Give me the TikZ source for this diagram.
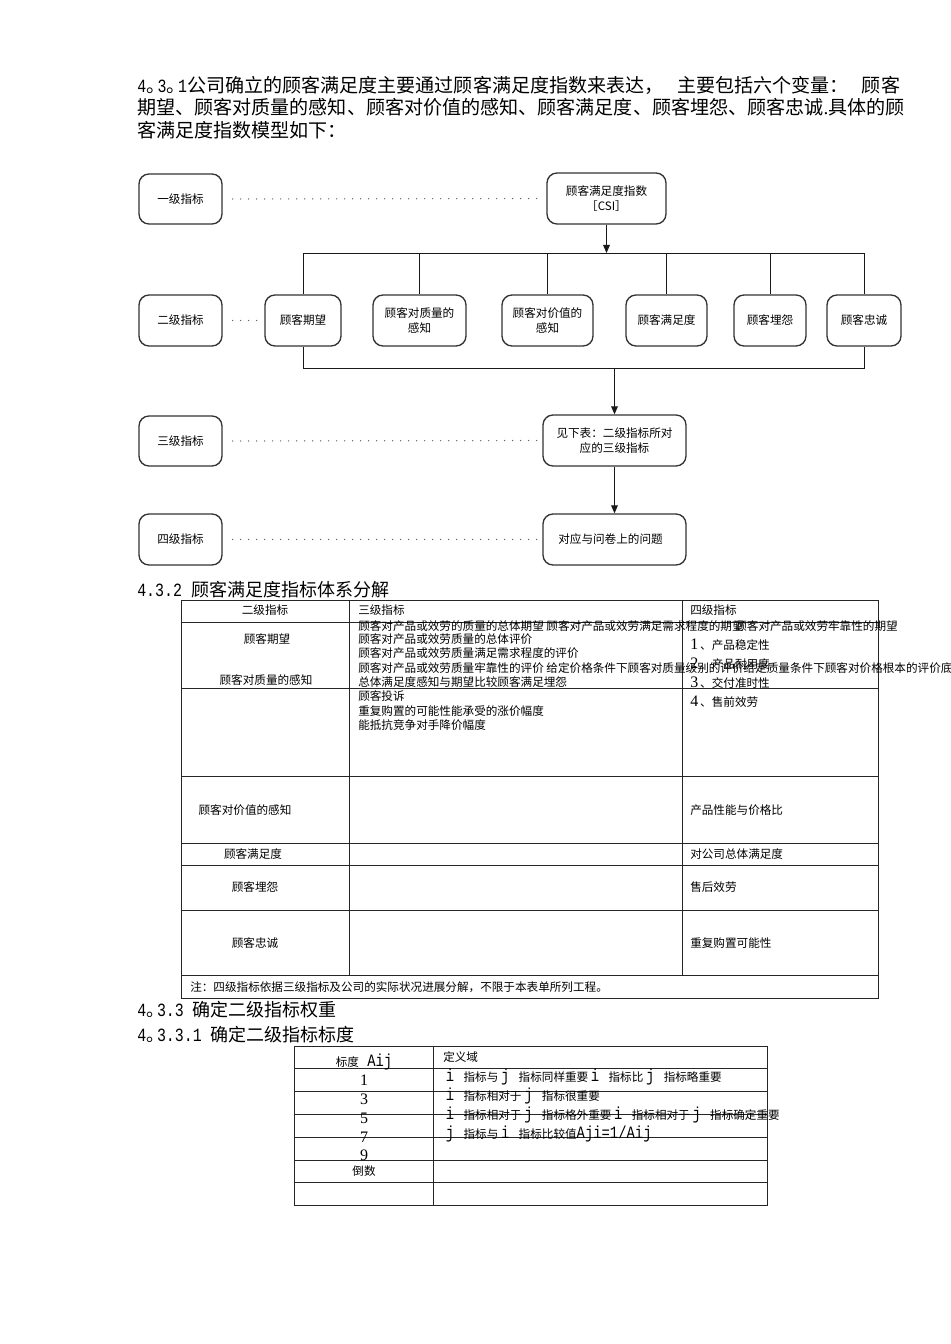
\documentclass[tikz,border=0pt]{standalone}
\usepackage{fontspec}
\setmainfont{Liberation Serif}
\newfontfamily\cjk{Noto Sans CJK SC}
\newfontfamily\mono{Liberation Mono}
\newfontfamily\nmono[FakeStretch=0.8]{Liberation Mono}
\usetikzlibrary{arrows.meta}
\newcommand{\qdot}{\makebox[0.6em][l]{。}}
\newcommand{\latn}[1]{\hspace{2pt}{\nmono\fontsize{13}{13}\selectfont #1}\hspace{7pt}}
\newcommand{\num}[1]{{\rmfamily\fontsize{12}{12}\selectfont #1}}
\newcommand{\hd}[1]{{\nmono\fontsize{14}{14}\selectfont #1}}
\begin{document}
\begin{tikzpicture}[x=0.75pt,y=-0.75pt,
  box/.style={draw=black!80,line width=1pt,rounded corners=7.5pt,align=center,inner sep=1pt,font=\cjk\fontsize{8.7}{11.5}\selectfont},
  conn/.style={draw=black!90,line width=0.7pt},
  arr/.style={conn,-{Triangle[length=6pt,width=5pt]}},
  dots/.style={draw=black!60,line width=1.1pt,line cap=round,dash pattern=on 0pt off 6pt},
  grid/.style={draw=black!85,line width=0.75pt},
  tx/.style={font=\cjk\fontsize{8.7}{10}\selectfont,inner sep=0pt},
  para/.style={font=\cjk\fontsize{14.3}{18}\selectfont,inner sep=0pt,anchor=west},
  head/.style={font=\cjk\fontsize{13.5}{16}\selectfont,inner sep=0pt,anchor=west}]
\fill[white] (0,0) rectangle (950,1344);
\useasboundingbox (0,0) rectangle (950,1344);

% paragraph
\node[para] (p1) at (137,85) {\hd{4}\qdot\hd{3}\qdot\hd{1}公司确立的顾客满足度主要通过顾客满足度指数来表达，\hspace{10pt}主要包括六个变量：\hspace{10pt}顾客};
\node[para] (p2) at (137,107) {期望、顾客对质量的感知、顾客对价值的感知、顾客满足度、顾客埋怨、顾客忠诚{\rmfamily .}具体的顾};
\node[para] (p3) at (137,130) {客满足度指数模型如下：};

% diagram
\node[box,minimum width=62.25pt,minimum height=37.5pt] (l1) at (180.5,199) {一级指标};
\node[box,minimum width=89.25pt,minimum height=38.25pt] (csi) at (606.5,198.5) {顾客满足度指数\\［CSI］};
\node[box,minimum width=62.25pt,minimum height=38.25pt] (l2) at (180.5,320.5) {二级指标};
\node[box,minimum width=57pt,minimum height=38.25pt] (e) at (303,320.5) {顾客期望};
\node[box,minimum width=69.75pt,minimum height=38.25pt] (q) at (419.5,320.5) {顾客对质量的\\感知};
\node[box,minimum width=68.25pt,minimum height=38.25pt] (v) at (547.5,320.5) {顾客对价值的\\感知};
\node[box,minimum width=60.75pt,minimum height=38.25pt] (s) at (666.5,320.5) {顾客满足度};
\node[box,minimum width=54pt,minimum height=38.25pt] (c) at (770,320.5) {顾客埋怨};
\node[box,minimum width=55.5pt,minimum height=38.25pt] (z) at (864,320.5) {顾客忠诚};
\node[box,minimum width=62.25pt,minimum height=37.5pt] (l3) at (180.5,441) {三级指标};
\node[box,minimum width=107.25pt,minimum height=38.25pt] (see) at (614.5,440.5) {见下表：二级指标所对\\应的三级指标};
\node[box,minimum width=62.25pt,minimum height=38.25pt] (l4) at (180.5,539.5) {四级指标};
\node[box,minimum width=107.25pt,minimum height=38.25pt] (qa) at (614.5,539.5) {\raisebox{-4pt}{对应与问卷上的问题}\hspace{6pt}};

\coordinate (bus) at (0,253);
\coordinate (bot) at (0,368);
\draw[arr] (csi.south) -- (csi.south |- bus);
\draw[conn] (e.north |- bus) -- (z.north |- bus);
\foreach \n in {e,q,v,s,c,z} \draw[conn] (\n.north) -- (\n.north |- bus);
\draw[conn] (e.south) -- (e.south |- bot) -- (z.south |- bot) -- (z.south);
\draw[arr] (see.north |- bot) -- (see.north);
\draw[arr] (see.south) -- (qa.north);

\draw[dots] ([xshift=7.5pt]l1.east) -- ([xshift=-3pt]csi.west);
\draw[dots] ([xshift=7.5pt]l2.east) -- ([xshift=-2pt]e.west);
\draw[dots] ([xshift=7.5pt]l3.east) -- ([xshift=-4pt]see.west);
\draw[dots] ([xshift=7.5pt]l4.east) -- ([xshift=-4pt]qa.west);

% heading 4.3.2
\node[head] (h1) at (137,590) {\hd{4.3.2 }顾客满足度指标体系分解};

% table 1 grid
\draw[grid] (181,600) rectangle (878,998);
\draw[grid] (349,600) -- (349,975);
\draw[grid] (682,600) -- (682,975);
\foreach \yy in {622,688,776,843,865,910,975} \draw[grid] (181,\yy) -- (878,\yy);

% table 1 column 1
\node[tx] (a0) at (265,610) {二级指标};
\node[tx] (a1) at (267,639) {顾客期望};
\node[tx] (a2) at (266,680) {顾客对质量的感知};
\node[tx] (a3) at (245,810) {顾客对价值的感知};
\node[tx] (a4) at (253,854) {顾客满足度};
\node[tx] (a5) at (255,887) {顾客埋怨};
\node[tx] (a6) at (255,943) {顾客忠诚};

% table 1 column 2
\node[tx,anchor=west] (b0) at (358,610) {三级指标};
\node[tx,anchor=west] (b1) at (358,626) {顾客对产品或效劳的质量的总体期望 顾客对产品或效劳满足需求程度的期望};
\node[tx,anchor=east] (b1x) at (898,626) {顾客对产品或效劳牢靠性的期望};
\node[tx,anchor=west] (b2) at (358,639) {顾客对产品或效劳质量的总体评价};
\node[tx,anchor=west] (b3) at (358,653) {顾客对产品或效劳质量满足需求程度的评价};
\node[tx,anchor=west] (b4) at (358,668) {顾客对产品或效劳质量牢靠性的评价 给定价格条件下顾客对质量级别的评价给定质量条件下顾客对价格根本的评价底};
\node[tx,anchor=west] (b5) at (358,682) {总体满足度感知与期望比较顾客满足埋怨};
\node[tx,anchor=west] (b6) at (358,696) {顾客投诉};
\node[tx,anchor=west] (b7) at (358,711) {重复购置的可能性能承受的涨价幅度};
\node[tx,anchor=west] (b8) at (358,725) {能抵抗竞争对手降价幅度};

% table 1 column 3
\node[tx,anchor=west] (d0) at (690,610) {四级指标};
\node[tx,anchor=west] (d1) at (690,645) {\num{1}\,、产品稳定性};
\node[tx,anchor=west] (d2) at (690,664) {\num{2}\,、产品耐用度};
\node[tx,anchor=west] (d3) at (690,683) {\num{3}\,、交付准时性};
\node[tx,anchor=west] (d4) at (690,702) {\num{4}\,、售前效劳};
\node[tx,anchor=west] (d5) at (690,810) {产品性能与价格比};
\node[tx,anchor=west] (d6) at (690,854) {对公司总体满足度};
\node[tx,anchor=west] (d7) at (690,887) {售后效劳};
\node[tx,anchor=west] (d8) at (690,943) {重复购置可能性};
\node[tx,anchor=west] (note) at (190,987) {注：四级指标依据三级指标及公司的实际状况进展分解，不限于本表单所列工程。};

% headings 4.3.3
\node[head] (h2) at (137,1010) {\hd{4}\qdot\hd{3.3 }确定二级指标权重};
\node[head] (h3) at (137,1035) {\hd{4}\qdot\hd{3.3.1 }确定二级指标标度};

% table 2 grid
\draw[grid] (294,1046) rectangle (767,1205);
\draw[grid] (433,1046) -- (433,1205);
\foreach \yy in {1068,1091,1114,1137,1160,1182} \draw[grid] (294,\yy) -- (767,\yy);

% table 2 column 1
\node[tx] (k0) at (364,1062) {标度{\nmono\fontsize{13}{13}\selectfont\ Aij}};
\node[tx] (k1) at (364,1080) {\num{1}};
\node[tx] (k2) at (364,1099) {\num{3}};
\node[tx] (k3) at (364,1118) {\num{5}};
\node[tx] (k4) at (364,1137) {\num{7}};
\node[tx] (k5) at (364,1155) {\num{9}};
\node[tx] (k6) at (364,1171) {倒数};

% table 2 column 2
\node[tx,anchor=west] (m0) at (443,1057) {定义域};
\node[tx,anchor=west] (m1) at (443,1077) {\latn{i}指标与\latn{j}指标同样重要\latn{i}指标比\latn{j}指标略重要};
\node[tx,anchor=west] (m2) at (443,1096) {\latn{i}指标相对于\latn{j}指标很重要};
\node[tx,anchor=west] (m3) at (443,1115) {\latn{i}指标相对于\latn{j}指标格外重要\latn{i}指标相对于\latn{j}指标确定重要};
\node[tx,anchor=west] (m4) at (443,1134) {\latn{j}指标与\latn{i}指标比较值{\nmono\fontsize{13}{13}\selectfont Aji=1/Aij}};
\end{tikzpicture}
\end{document}
